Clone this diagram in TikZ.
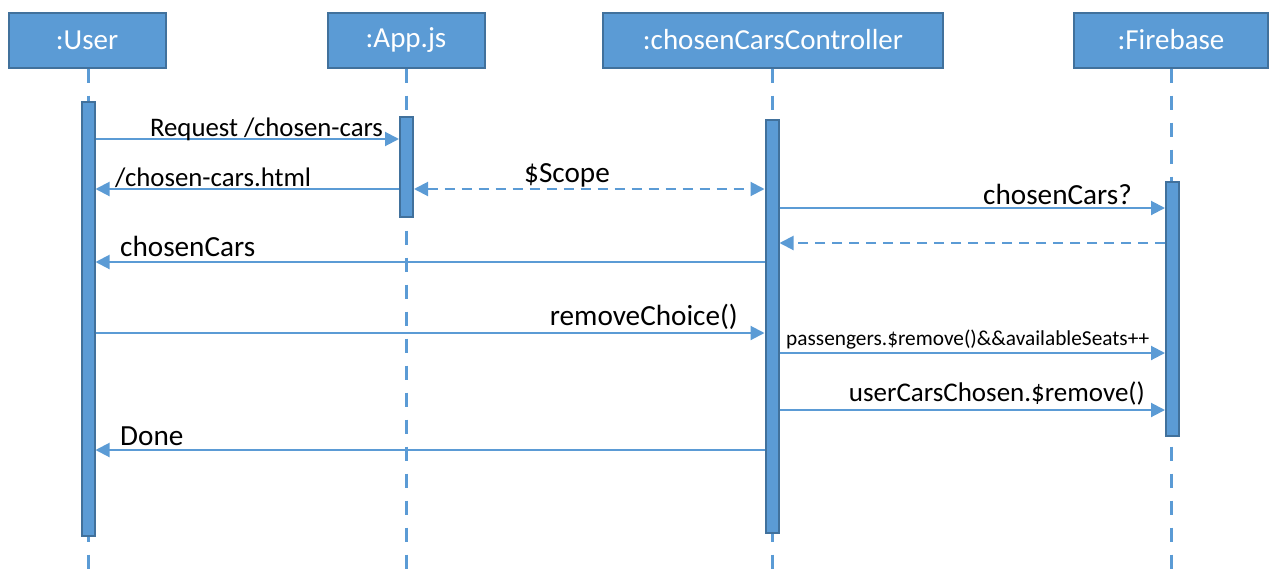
\documentclass[tikz,border=0pt]{standalone}
\usepackage{fontspec}
\setmainfont{Carlito}
\usetikzlibrary{arrows.meta}
\definecolor{umlfill}{HTML}{5B9BD5}
\definecolor{umlborder}{HTML}{41719C}
\tikzset{
  header/.style={rectangle, fill=umlfill, draw=umlborder, line width=2pt, text=white, font=\fontsize{29}{34}\selectfont, inner sep=0pt},
  actbar/.style={rectangle, fill=umlfill, draw=umlborder, line width=2pt, inner sep=0pt, minimum width=13pt},
  lifeline/.style={draw=umlfill, line width=3pt, dash pattern=on 14pt off 13pt},
  msg/.style={draw=umlfill, line width=2pt, -{Triangle[length=14pt,width=14pt]}},
  reply/.style={msg, dash pattern=on 10pt off 7pt},
  both/.style={draw=umlfill, line width=2pt, dash pattern=on 10pt off 7pt, {Triangle[length=14pt,width=14pt]}-{Triangle[length=14pt,width=14pt]}},
  lbl/.style={text=black, inner sep=0pt, font=\fontsize{26.8}{31}\selectfont},
  lblbig/.style={text=black, inner sep=0pt, font=\fontsize{29.2}{34}\selectfont},
  lblmid/.style={text=black, inner sep=0pt, font=\fontsize{27}{32}\selectfont},
  lblsmall/.style={text=black, inner sep=0pt, font=\fontsize{21.3}{25}\selectfont}
}
\begin{document}
\begin{tikzpicture}[x=1pt,y=-1pt]
\useasboundingbox (0,0) rectangle (1271,573);
% headers
\node[header, minimum width=157pt, minimum height=55pt] (user) at (87,40) {:User};
\node[header, minimum width=157pt, minimum height=55pt] (app) at (406,40) {:App.js};
\node[header, minimum width=340pt, minimum height=55pt] (ctrl) at (773,40) {:chosenCarsController};
\node[header, minimum width=194pt, minimum height=55pt] (fb) at (1171,40) {:Firebase};
% lifeline ends
\coordinate (userend) at (88,573);
\coordinate (append) at (406,573);
\coordinate (ctrlend) at (772,573);
\coordinate (fbend) at (1171,573);
\draw[lifeline] (user.south -| userend) -- (userend);
\draw[lifeline] (app.south -| append) -- (append);
\draw[lifeline] (ctrl.south -| ctrlend) -- (ctrlend);
\draw[lifeline] (fb.south -| fbend) -- (fbend);
% activation bars
\node[actbar, minimum height=434pt] (ua) at (88,319) {};
\node[actbar, minimum height=100pt] (aa) at (406.5,167) {};
\node[actbar, minimum height=413pt] (ca) at (772,326.5) {};
\node[actbar, minimum height=254pt] (fa) at (1172.5,309) {};
% messages
\draw[msg] (ua.east |- 0,139) -- (aa.west |- 0,139);
\node[lbl, anchor=base] (l1) at (266.5,136) {Request /chosen-cars};
\draw[msg] (aa.west |- 0,189) -- (ua.east |- 0,189);
\node[lbl, anchor=base west] (l2) at (115,186) {/chosen-cars.html};
\draw[both] (aa.east |- 0,189) -- (ca.west |- 0,189);
\node[lblbig, anchor=base] (l3) at (567,182) {\$Scope};
\draw[msg] (ca.east |- 0,208) -- (fa.west |- 0,208);
\node[lblbig, anchor=base east] (l4) at (1132,204) {chosenCars?};
\draw[reply] (fa.west |- 0,243) -- (ca.east |- 0,243);
\draw[msg] (ca.west |- 0,262) -- (ua.east |- 0,262);
\node[lblbig, anchor=base west] (l6) at (120,256) {chosenCars};
\draw[msg] (ua.east |- 0,333) -- (ca.west |- 0,333);
\node[lblbig, anchor=base east] (l7) at (738,325) {removeChoice()};
\draw[msg] (ca.east |- 0,353) -- (fa.west |- 0,353);
\node[lblsmall, anchor=base west] (l8) at (786,345) {passengers.\$remove()\&\&availableSeats++};
\draw[msg] (ca.east |- 0,410) -- (fa.west |- 0,410);
\node[lblmid, anchor=base east] (l9) at (1145,401) {userCarsChosen.\$remove()};
\draw[msg] (ca.west |- 0,450) -- (ua.east |- 0,450);
\node[lblbig, anchor=base west] (l10) at (120,445) {Done};
\end{tikzpicture}
\end{document}
